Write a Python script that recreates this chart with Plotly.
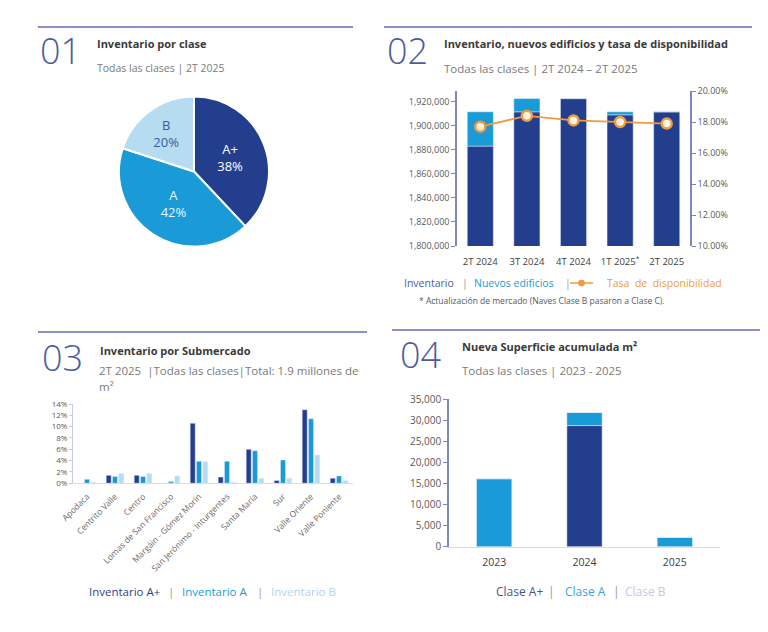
import plotly.graph_objects as go

W, H = 768, 632
OX, OY = 8, 8  # page body margin offset
def fx(x): return (x - OX) / W
def fy(y): return 1 - (y - OY) / H

FONT = "Open Sans"
NAVY = "#243e8e"
CYAN = "#1a9bd7"
LIGHT = "#b5dcf1"
ORANGE = "#f39a3d"
AXIS = "#7f86bd"
HEAD = "#8a90c4"
NUM = "#4d5c9e"

# ---------- Panel 1 data ----------
pie_labels = ["A+", "A", "B"]
pie_values = [38, 42, 20]

# ---------- Panel 2 data ----------
quarters = ["2T 2024", "3T 2024", "4T 2024", "1T 2025", "2T 2025"]
quarter_ticks = ["2T 2024", "3T 2024", "4T 2024", "1T 2025<sup>*</sup>", "2T 2025"]
inventario = [1883000, 1911500, 1922500, 1909000, 1911500]
nuevos = [28500, 11000, 0, 2500, 0]
tasa = [17.7, 18.4, 18.1, 18.0, 17.9]
inv_ticks = [1800000, 1820000, 1840000, 1860000, 1880000, 1900000, 1920000]

# ---------- Panel 3 data ----------
submercados = ["Apodaca", "Centrito Valle", "Centro", "Lomas de San Francisco",
               "Margáin - Gómez Morín", "San Jerónimo - Inturgentes", "Santa María",
               "Sur", "Valle Oriente", "Valle Poniente"]
inv_a_plus = [0.0, 1.4, 1.4, 0.0, 10.6, 1.1, 6.0, 0.5, 13.0, 0.9]
inv_a = [0.7, 1.2, 1.2, 0.3, 3.9, 3.9, 5.75, 4.1, 11.4, 1.3]
inv_b = [0.2, 1.75, 1.75, 1.3, 3.8, 0.2, 0.9, 0.9, 5.0, 0.5]

# ---------- Panel 4 data ----------
years = ["2023", "2024", "2025"]
clase_a_plus = [0, 28700, 0]
clase_a = [16100, 3100, 2200]
clase_b = [0, 0, 0]

fig = go.Figure()

# Panel 1: pie
fig.add_trace(go.Pie(
    labels=pie_labels, values=pie_values, sort=False, direction="clockwise",
    rotation=0, marker=dict(colors=[NAVY, CYAN, LIGHT], line=dict(color="white", width=2)),
    texttemplate="%{label}<br>%{value}%", textposition="inside",
    insidetextfont=dict(family=FONT, size=13, color=["white", "#eaf5fc", "#3d5a9e"]),
    domain=dict(x=[fx(119), fx(269)], y=[fy(247), fy(96)]),
    showlegend=False, hoverinfo="skip", automargin=False))

# Panel 2: stacked bars + line
fig.add_trace(go.Bar(x=quarters, y=inventario, marker_color=NAVY, width=0.56,
                     xaxis="x", yaxis="y", showlegend=False))
fig.add_trace(go.Bar(x=quarters, y=nuevos, base=inventario, marker_color=CYAN, width=0.56,
                     xaxis="x", yaxis="y", showlegend=False))
fig.add_trace(go.Scatter(x=quarters, y=tasa, mode="lines+markers",
                         line=dict(color=ORANGE, width=1.8),
                         marker=dict(size=10, color="#fff4e8", line=dict(color=ORANGE, width=2.5)),
                         xaxis="x", yaxis="y2", showlegend=False))

# Panel 3: grouped bars
bw = 0.18
for vals, col, off in [(inv_a_plus, NAVY, -0.315), (inv_a, CYAN, -0.09), (inv_b, LIGHT, 0.135)]:
    fig.add_trace(go.Bar(x=submercados, y=vals, marker_color=col, width=bw, offset=off,
                         xaxis="x2", yaxis="y3", showlegend=False))

# Panel 4: stacked bars
stack_base2 = [a + b for a, b in zip(clase_a_plus, clase_a)]
fig.add_trace(go.Bar(x=years, y=clase_a_plus, marker_color=NAVY, width=0.39,
                     xaxis="x3", yaxis="y4", showlegend=False))
fig.add_trace(go.Bar(x=years, y=clase_a, base=clase_a_plus, marker_color=CYAN, width=0.39,
                     xaxis="x3", yaxis="y4", showlegend=False))
fig.add_trace(go.Bar(x=years, y=clase_b, base=stack_base2, marker_color="#c3c9e8", width=0.39,
                     xaxis="x3", yaxis="y4", showlegend=False))

tick_gray = "#595959"
fig.update_layout(
    width=W, height=H, margin=dict(l=0, r=0, t=0, b=0, pad=0, autoexpand=False),
    paper_bgcolor="white", plot_bgcolor="white", barmode="overlay",
    font=dict(family=FONT, color="#404040"),
    xaxis=dict(domain=[fx(457), fx(690)], anchor="y", showline=False, ticks="",
               tickvals=quarters, ticktext=quarter_ticks, showgrid=False, automargin=False,
               ticklabelstandoff=8, tickfont=dict(size=9.5, color="#404040")),
    yaxis=dict(domain=[fy(246), fy(91)], anchor="x", range=[1800000, 1928800],
               tickvals=inv_ticks, tickformat=",", showgrid=False, zeroline=False,
               showline=True, linecolor=AXIS, linewidth=1.5, ticks="outside", ticklen=4,
               tickcolor=AXIS, tickfont=dict(size=9, color=tick_gray), automargin=False),
    yaxis2=dict(overlaying="y", side="right", anchor="x", range=[10, 20], dtick=2,
                tickformat=".2f", ticksuffix="%", showgrid=False, zeroline=False,
                showline=True, linecolor=AXIS, linewidth=1.5, ticks="outside", ticklen=4,
                tickcolor=AXIS, tickfont=dict(size=9, color=tick_gray), automargin=False),
    xaxis2=dict(domain=[fx(73), fx(353)], anchor="y3", showline=True, linecolor="#d9dce6",
                ticks="", tickangle=-45, showgrid=False, automargin=False,
                ticklabelstandoff=4, tickfont=dict(size=8.5, color="#6a6a6a")),
    yaxis3=dict(domain=[fy(483.3), fy(404)], anchor="x2", range=[0, 14], dtick=2,
                ticksuffix="%", showgrid=False, zeroline=False, showline=True,
                linecolor="#c5cbe0", ticks="outside", ticklen=3, tickcolor="#c5cbe0",
                tickfont=dict(size=8, color=tick_gray), automargin=False),
    xaxis3=dict(domain=[fx(449), fx(720)], anchor="y4", showline=True, linecolor="#d9dce6",
                ticks="", showgrid=False, automargin=False, ticklabelstandoff=6,
                tickfont=dict(size=10.5, color="#404040")),
    yaxis4=dict(domain=[fy(546.7), fy(399)], anchor="x3", range=[0, 35000], dtick=5000,
                tickformat=",", showgrid=False, zeroline=False, showline=True,
                linecolor=AXIS, linewidth=1.5, ticks="outside", ticklen=4, tickcolor=AXIS,
                tickfont=dict(size=10, color=tick_gray), automargin=False),
)

shapes = []
def hline(x0, x1, y):
    shapes.append(dict(type="line", xref="paper", yref="paper", x0=fx(x0), x1=fx(x1),
                       y0=fy(y), y1=fy(y), line=dict(color=HEAD, width=2)))
hline(38, 353, 27)
hline(384, 752, 27)
hline(38, 367, 332)
hline(392, 763, 330)
# legend line symbol panel 2
shapes.append(dict(type="line", xref="paper", yref="paper", x0=fx(570), x1=fx(593),
                   y0=fy(283), y1=fy(283), line=dict(color=ORANGE, width=1.5)))
shapes.append(dict(type="circle", xref="paper", yref="paper", x0=fx(578.5), x1=fx(584.5),
                   y0=fy(286), y1=fy(280), fillcolor=ORANGE, line=dict(color=ORANGE, width=1)))
fig.update_layout(shapes=shapes)

ann = []
def text(x, y, s, size, color, bold=False, anchor="left", weight=None):
    d = dict(xref="paper", yref="paper", x=fx(x), y=fy(y), text=s, showarrow=False,
             xanchor=anchor, yanchor="middle",
             font=dict(family=FONT, size=size, color=color))
    if bold:
        d["font"]["weight"] = "bold"
    if weight:
        d["font"]["weight"] = weight
    ann.append(d)

# headers
for num, x, y in [("01", 38, 50), ("02", 385, 50), ("03", 40, 358), ("04", 398, 354)]:
    text(x, y, num, 36, NUM, weight=300)
text(95, 44, "Inventario por clase", 11, "#3a3a3a", bold=True)
text(95, 68, "Todas las clases | 2T 2025", 10.5, "#7a7a7a")
text(442, 44, "Inventario, nuevos edificios y tasa de disponibilidad", 11, "#3a3a3a", bold=True)
text(442, 68, "Todas las clases | 2T 2024 – 2T 2025", 11.5, "#7a7a7a")
text(98, 350, "Inventario por Submercado", 11, "#3a3a3a", bold=True)
text(97, 371, "2T 2025  |Todas las clases|Total: 1.9 millones de", 11.5, "#7a7a7a")
text(97, 386, "m²", 11.5, "#7a7a7a")
text(460, 346, "Nueva Superficie acumulada m²", 11, "#3a3a3a", bold=True)
text(460, 371, "Todas las clases | 2023 - 2025", 11.5, "#7a7a7a")

# panel 2 legend
text(402, 283, "Inventario", 10.5, "#4d5c9e")
text(460, 283, "|", 10.5, "#9a9a9a")
text(472, 283, "Nuevos edificios", 10.5, CYAN)
text(563, 283, "|", 10.5, "#9a9a9a")
text(605, 283, "Tasa  de  disponibilidad", 10.5, ORANGE)
text(417, 300, "* Actualización de mercado (Naves Clase B pasaron a Clase C).", 8.5, "#595959")

# panel 3 legend
text(87, 591, "Inventario A+", 11.5, "#2e3f8a")
text(166, 591, "|", 11.5, "#9a9a9a")
text(180, 591, "Inventario A", 11.5, CYAN)
text(255, 591, "|", 11.5, "#9a9a9a")
text(269, 591, "Inventario B", 11.5, "#b3d2f0")

# panel 4 legend
text(494, 591, "Clase A+", 12, "#45558f")
text(546, 591, "|", 12, "#9a9a9a")
text(563, 591, "Clase A", 12, "#35a6df")
text(611, 591, "|", 12, "#9a9a9a")
text(623, 591, "Clase B", 12, "#c3c9e8")

fig.update_layout(annotations=ann)
fig.write_html("out.html")
